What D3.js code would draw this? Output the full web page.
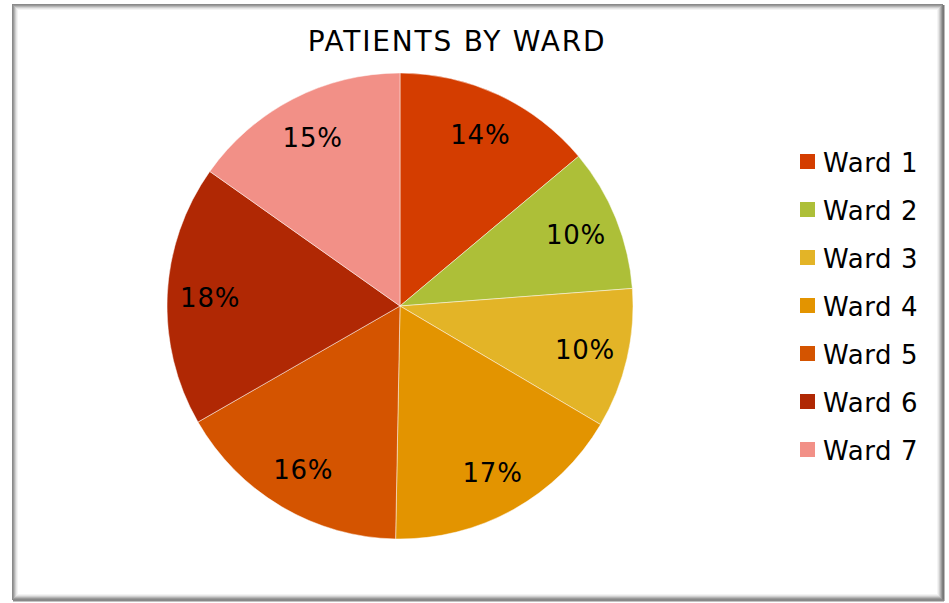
<!DOCTYPE html>
<html>
<head>
<meta charset="utf-8">
<script src="https://cdn.jsdelivr.net/npm/d3@7"></script>
<style>
  html, body { margin: 0; padding: 0; background: #fff; }
  svg { display: block; }
  text { font-family: "DejaVu Sans", Verdana, sans-serif; fill: #000; }
</style>
</head>
<body>
<svg id="chart" width="949" height="603"></svg>
<script>
const chartTitle = "PATIENTS BY WARD";
const wards = ["Ward 1", "Ward 2", "Ward 3", "Ward 4", "Ward 5", "Ward 6", "Ward 7"];
const shares = [13.9, 9.9, 9.7, 16.8, 16.4, 18.1, 15.2];
const colors = ["#D43D00", "#ADBF38", "#E3B427", "#E39400", "#D45400", "#B02804", "#F29087"];

const svg = d3.select("#chart");

// frame with bevel / shadow
const frame = svg.append("g");
const shades = ["#8a8a8a", "#9a9a9a", "#b5b5b5", "#d0d0d0", "#e6e6e6", "#f4f4f4"];
shades.forEach((c, i) => {
  frame.append("rect")
    .attr("x", 12.5 + i).attr("y", 4.5 + i)
    .attr("width", 930 - 2 * i).attr("height", 595 - 2 * i)
    .attr("fill", "none").attr("stroke", c).attr("stroke-width", 1);
});
frame.append("line").attr("x1", 943.5).attr("x2", 943.5).attr("y1", 5).attr("y2", 601)
  .attr("stroke", "#777").attr("stroke-width", 2);
frame.append("line").attr("x1", 13).attr("x2", 944).attr("y1", 600.5).attr("y2", 600.5)
  .attr("stroke", "#888").attr("stroke-width", 2);

// title
svg.append("text")
  .attr("x", 457).attr("y", 51)
  .attr("text-anchor", "middle")
  .style("font-size", "28px")
  .style("letter-spacing", "1.8px")
  .text(chartTitle);

// pie
const cx = 400, cy = 306, R = 233;
const total = d3.sum(shares);
const data = wards.map((w, i) => ({ name: w, value: shares[i], color: colors[i] }));
const pie = d3.pie().sort(null).value(d => d.value);
const arcs = pie(data);
const arc = d3.arc().innerRadius(0).outerRadius(R);
const labelArc = d3.arc().innerRadius(190).outerRadius(190);
const fmt = d3.format(".0%");

const g = svg.append("g").attr("transform", `translate(${cx},${cy})`);
g.selectAll("path.slice").data(arcs).join("path")
  .attr("class", "slice")
  .attr("d", arc)
  .attr("fill", d => d.data.color)
  .attr("stroke", "rgba(255,255,255,0.6)")
  .attr("stroke-width", 0.8);

g.selectAll("text.lbl").data(arcs).join("text")
  .attr("class", "lbl")
  .attr("transform", d => `translate(${labelArc.centroid(d)})`)
  .attr("text-anchor", "middle")
  .attr("dy", "0.38em")
  .style("font-size", "26px")
  .style("letter-spacing", "0.8px")
  .text(d => fmt(d.data.value / total));

// legend
const leg = svg.append("g");
const rows = leg.selectAll("g").data(data).join("g")
  .attr("transform", (d, i) => `translate(800,${154 + i * 48})`);
rows.append("rect").attr("width", 15).attr("height", 15).attr("fill", d => d.color);
rows.append("text").attr("x", 23).attr("y", 17.5)
  .style("font-size", "26px")
  .style("letter-spacing", "0.6px")
  .text(d => d.name);
</script>
</body>
</html>
